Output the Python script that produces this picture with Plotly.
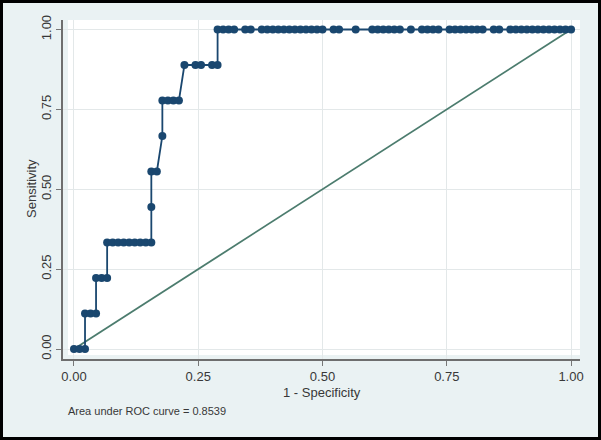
import plotly.graph_objects as go

# 1 - Specificity (false positive rate) of each ROC point
fpr = [0.0000, 0.0111, 0.0222,
       0.0222, 0.0333, 0.0444,
       0.0444, 0.0556, 0.0667,
       0.0667, 0.0778, 0.0889, 0.1000, 0.1111, 0.1222, 0.1333, 0.1444, 0.1556,
       0.1556,
       0.1556, 0.1667,
       0.1778,
       0.1778, 0.1889, 0.2000, 0.2111,
       0.2222, 0.2444, 0.2556, 0.2778, 0.2889,
       0.2889, 0.3000, 0.3111, 0.3222, 0.3444, 0.3556,
       0.3778, 0.3889, 0.4000, 0.4111, 0.4222, 0.4333, 0.4444, 0.4556, 0.4667,
       0.4778, 0.4889, 0.5000, 0.5222, 0.5333, 0.5667,
       0.6000, 0.6111, 0.6222, 0.6333, 0.6444, 0.6556, 0.6778,
       0.7000, 0.7111, 0.7222, 0.7333,
       0.7556, 0.7667, 0.7778, 0.7889, 0.8000, 0.8111, 0.8222, 0.8444, 0.8556,
       0.8778, 0.8889, 0.9000, 0.9111, 0.9222, 0.9333, 0.9444, 0.9556, 0.9667,
       0.9778, 0.9889, 1.0000]

# Sensitivity of each ROC point
sens = [0.0000, 0.0000, 0.0000,
        0.1111, 0.1111, 0.1111,
        0.2222, 0.2222, 0.2222,
        0.3333, 0.3333, 0.3333, 0.3333, 0.3333, 0.3333, 0.3333, 0.3333, 0.3333,
        0.4444,
        0.5556, 0.5556,
        0.6667,
        0.7778, 0.7778, 0.7778, 0.7778,
        0.8889, 0.8889, 0.8889, 0.8889, 0.8889,
        1.0, 1.0, 1.0, 1.0, 1.0, 1.0,
        1.0, 1.0, 1.0, 1.0, 1.0, 1.0, 1.0, 1.0, 1.0,
        1.0, 1.0, 1.0, 1.0, 1.0, 1.0,
        1.0, 1.0, 1.0, 1.0, 1.0, 1.0, 1.0,
        1.0, 1.0, 1.0, 1.0,
        1.0, 1.0, 1.0, 1.0, 1.0, 1.0, 1.0, 1.0, 1.0,
        1.0, 1.0, 1.0, 1.0, 1.0, 1.0, 1.0, 1.0, 1.0,
        1.0, 1.0, 1.0]

ref_x = [0.0, 1.0]
ref_y = [0.0, 1.0]

tick_vals = [0.0, 0.25, 0.50, 0.75, 1.00]
tick_text = ["0.00", "0.25", "0.50", "0.75", "1.00"]

x_title = "1 - Specificity"
y_title = "Sensitivity"
note = "Area under ROC curve = 0.8539"

W, H = 601, 440
L, R, T, B = 63, 21, 20, 81
pw, ph = W - L - R, H - T - B

def px_x(p):
    return (p - L) / pw

def px_y(p):
    return (H - B - p) / ph

BG = "#eaf2f3"
NAVY = "#1a476f"
REF = "#4c7c6e"
TXT = "#383838"
FONT = "Liberation Sans, Arial, sans-serif"

fig = go.Figure()
fig.add_trace(go.Scatter(x=ref_x, y=ref_y, mode="lines",
                         line=dict(color=REF, width=1.8), hoverinfo="skip",
                         showlegend=False))
fig.add_trace(go.Scatter(x=fpr, y=sens, mode="lines+markers",
                         line=dict(color=NAVY, width=1.8),
                         marker=dict(color=NAVY, size=8, symbol="circle"),
                         showlegend=False))

axis_common = dict(
    tickvals=tick_vals, ticktext=tick_text,
    ticks="outside", ticklen=5, tickwidth=1, tickcolor="#777777",
    showline=True, linecolor="#6e6e6e", linewidth=1.5,
    showgrid=True, gridcolor="#e3e8e9", gridwidth=1,
    zeroline=False,
    tickfont=dict(family=FONT, size=13, color=TXT),
)

fig.update_layout(
    width=W, height=H,
    margin=dict(l=L, r=R, t=T, b=B, pad=0),
    paper_bgcolor=BG, plot_bgcolor=BG,
    xaxis=dict(range=[-0.0221, 1.018], **axis_common),
    yaxis=dict(range=[-0.0313, 1.0297], tickangle=-90, **axis_common),
    font=dict(family=FONT, color=TXT),
    shapes=[
        dict(type="rect", xref="paper", yref="paper", layer="below",
             x0=px_x(68), x1=px_x(580), y0=px_y(355), y1=px_y(20),
             fillcolor="white", line=dict(width=0)),
        dict(type="rect", xref="paper", yref="paper", layer="above",
             x0=px_x(1.5), x1=px_x(599.5), y0=px_y(438.5), y1=px_y(1.5),
             fillcolor="rgba(0,0,0,0)", line=dict(color="black", width=3)),
    ],
    annotations=[
        dict(text=x_title, xref="paper", yref="paper", x=px_x(322), y=px_y(392),
             xanchor="center", yanchor="middle", showarrow=False,
             font=dict(family=FONT, size=13, color=TXT)),
        dict(text=y_title, xref="paper", yref="paper", x=px_x(31), y=px_y(189),
             xanchor="center", yanchor="middle", showarrow=False, textangle=-90,
             font=dict(family=FONT, size=13, color=TXT)),
        dict(text=note, xref="paper", yref="paper", x=px_x(66), y=px_y(411),
             xanchor="left", yanchor="middle", showarrow=False,
             font=dict(family=FONT, size=11, color=TXT)),
    ],
)

fig.write_html("out.html",
               config={"displayModeBar": False},
               post_script="document.body.style.margin='0px';"
                           "document.body.style.overflow='hidden';")
